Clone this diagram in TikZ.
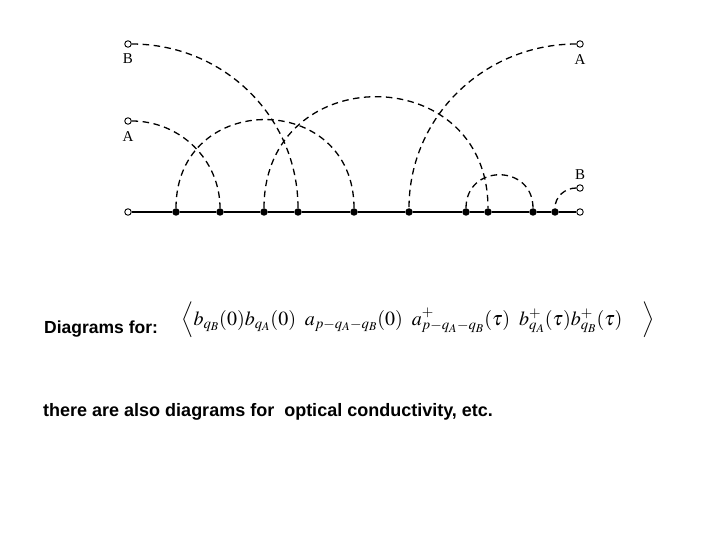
\documentclass[tikz,border=0pt]{standalone}
\usepackage{mathptmx}
\usepackage{fontspec}
\setmainfont{Liberation Sans}
\newfontfamily\labelfont{Liberation Serif}
\usetikzlibrary{positioning}
\tikzset{vertex/.style={circle,fill,inner sep=0pt,minimum size=7.5pt},
         endpt/.style={circle,draw,fill=white,inner sep=0pt,minimum size=6.5pt,line width=0.9pt},
         phonon/.style={dashed,line width=1.3pt,dash pattern=on 6.5pt off 4.5pt},
         electron/.style={line width=2pt},
         extlabel/.style={font=\labelfont\fontsize{15}{15}\selectfont,inner sep=0pt},
        }

\begin{document}
\begin{tikzpicture}[x=1pt,y=-1pt]
        \useasboundingbox (0,0) rectangle (720,540);

        % electron line
        \node[endpt](oL)at(128,212){};
        \node[endpt](oR)at(580,212){};
        \node[vertex](v1)at(176,212){};
        \node[vertex](v2)at(220,212){};
        \node[vertex](v3)at(264,212){};
        \node[vertex](v4)at(298,212){};
        \node[vertex](v5)at(354,212){};
        \node[vertex](v6)at(409,212){};
        \node[vertex](v7)at(466,212){};
        \node[vertex](v8)at(488,212){};
        \node[vertex](v9)at(533,212){};
        \node[vertex](v10)at(555,212){};

        % external phonons
        \node[endpt](bL)at(128,44){};
        \node[endpt](aL)at(128,121){};
        \node[endpt](aR)at(580,44){};
        \node[endpt](bR)at(580,188){};
        \node[extlabel](lbL)at(128,59){B};
        \node[extlabel](laL)at(128,137){A};
        \node[extlabel](laR)at(580,60){A};
        \node[extlabel](lbR)at(580,175){B};

        \draw[electron](oL)--(v1)--(v2)--(v3)--(v4)--(v5)--(v6)--(v7)--(v8)--(v9)--(v10)--(oR);

        \draw[phonon](bL.east) to[out=0,in=90] (v4.north);
        \draw[phonon](aL.east) to[out=0,in=90] (v2.north);
        \draw[phonon](aR.west) to[out=180,in=90] (v6.north);
        \draw[phonon](bR.west) to[out=180,in=90] (v10.north);

        \draw[phonon](v1.north) to[out=90,in=90,looseness=1.7] (v5.north);
        \draw[phonon](v3.north) to[out=90,in=90,looseness=1.7] (v8.north);
        \draw[phonon](v7.north) to[out=90,in=90,looseness=1.7] (v9.north);

        % text
        \node[anchor=base west,inner sep=0pt,font=\bfseries\fontsize{17.5}{20}\selectfont](diag)at(44,333){Diagrams for:};
        \node[inner sep=0pt,font=\fontsize{20}{24}\selectfont](corr)at(418,320)
          {$\Big\langle b_{q_B}(0)b_{q_A}(0)\;\; a_{p-q_A-q_B}(0)\;\; a^{+}_{p-q_A-q_B}(\tau)\;\; b^{+}_{q_A}(\tau)b^{+}_{q_B}(\tau)\quad\Big\rangle$};
        \node[anchor=base west,inner sep=0pt,font=\bfseries\fontsize{18}{20}\selectfont](also)at(43,416){there are also diagrams for\ \ optical conductivity, etc.};
    \end{tikzpicture}
\end{document}
